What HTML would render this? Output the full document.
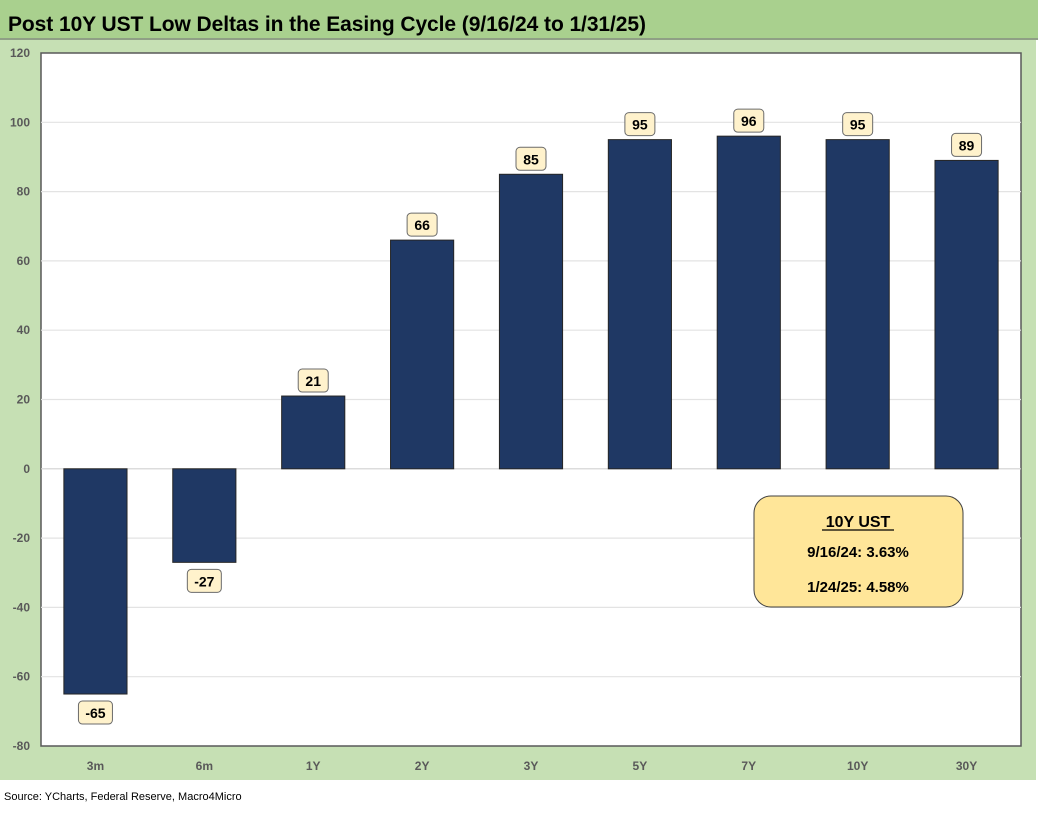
<!DOCTYPE html>
<html><head><meta charset="utf-8"><style>
body{margin:0;width:1038px;height:809px;background:#fff;font-family:"Liberation Sans",sans-serif;overflow:hidden}
</style></head><body>
<svg width="1038" height="809">
<rect x="0" y="0" width="1038" height="38" fill="#a9d08e"/>
<rect x="0" y="38" width="1038" height="2" fill="#8f9f85"/>
<rect x="0" y="40" width="1036" height="740" fill="#c6e0b4"/>
<text x="8" y="31" font-size="21" font-weight="bold" fill="#000" textLength="638">Post 10Y UST Low Deltas in the Easing Cycle (9/16/24 to 1/31/25)</text>
<rect x="41" y="53" width="980" height="693" fill="#fff" stroke="#595959" stroke-width="1.5"/>
<g id="grid"></g><g id="bars"></g><g id="labels"></g>
<g>
<rect x="754" y="496" width="209" height="111" rx="17" fill="#ffe699" stroke="#404040" stroke-width="1"/>
<text x="858" y="527" font-size="16" font-weight="bold" text-anchor="middle">10Y UST</text>
<line x1="822" y1="530" x2="894" y2="530" stroke="#000" stroke-width="1.3"/>
<text x="858" y="557" font-size="15" font-weight="bold" text-anchor="middle">9/16/24: 3.63%</text>
<text x="858" y="592" font-size="15" font-weight="bold" text-anchor="middle">1/24/25: 4.58%</text>
</g>
<text x="4" y="800" font-size="11" fill="#000">Source: YCharts, Federal Reserve, Macro4Micro</text>
</svg>
<script>
const categories=["3m","6m","1Y","2Y","3Y","5Y","7Y","10Y","30Y"];
const values=[-65,-27,21,66,85,95,96,95,89];
const yTicks=[-80,-60,-40,-20,0,20,40,60,80,100,120];
const NS="http://www.w3.org/2000/svg";
const L=41,R=1021,T=53,B=746,yMin=-80,yMax=120;
const y=v=>T+(yMax-v)/(yMax-yMin)*(B-T);
const band=(R-L)/categories.length;
const x=i=>L+band*(i+0.5);
function mk(tag,attrs,parent){const e=document.createElementNS(NS,tag);for(const k in attrs)e.setAttribute(k,attrs[k]);document.getElementById(parent).appendChild(e);return e;}
yTicks.forEach(t=>{
 if(t!==yMin&&t!==yMax){const g=mk('line',{x1:L,x2:R,y1:y(t),y2:y(t),stroke:t===0?'#d0d0d0':'#e3e3e3','stroke-width':1.2},'grid');
 
 }
 const tx=mk('text',{x:30,y:y(t)+4,'font-size':12,'font-weight':'bold',fill:'#595959','text-anchor':'end'},'grid');
 tx.textContent=t;
 
 
});
const bw=band*0.58;
values.forEach((v,i)=>{
 const y0=y(0),y1=y(v);
 const r=mk('rect',{x:x(i)-bw/2,y:Math.min(y0,y1),width:bw,height:Math.abs(y1-y0),fill:'#1f3864',stroke:'#262626','stroke-width':1},'bars');
 
 
 const ly=v>=0?y1-16:y1+18;
 const w=String(v).length>2?34:30;
 const lb=mk('rect',{x:x(i)-w/2,y:ly-11,width:w,height:23,rx:4,fill:'#fff2cc',stroke:'#6b6b6b','stroke-width':1},'labels');
 
 
 const lt=mk('text',{x:x(i),y:ly+6,'font-size':14,'font-weight':'bold','text-anchor':'middle'},'labels');
 lt.textContent=v;
 
 
 const xt=mk('text',{x:x(i),y:770,'font-size':12,'font-weight':'bold',fill:'#595959','text-anchor':'middle'},'labels');
 xt.textContent=categories[i];
 
 
});
</script>
</body></html>
